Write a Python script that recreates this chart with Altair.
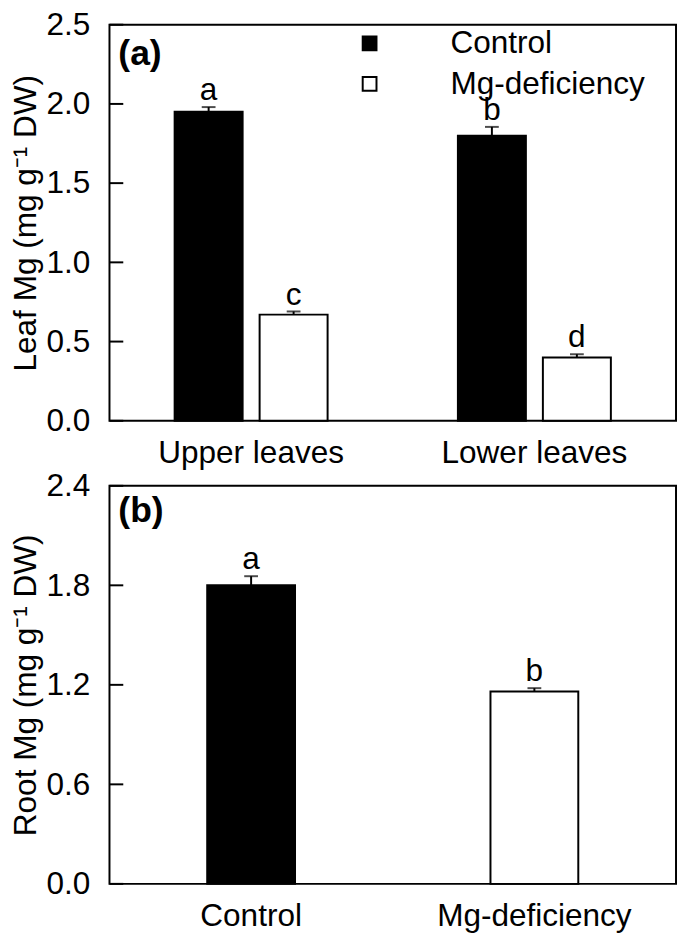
import altair as alt
import pandas as pd

# ---- data ----
leaf_groups = ["Upper leaves", "Upper leaves", "Lower leaves", "Lower leaves"]
leaf_treat = ["Control", "Mg-deficiency", "Control", "Mg-deficiency"]
leaf_mean = [1.95, 0.67, 1.80, 0.40]
leaf_se = [0.03, 0.02, 0.055, 0.02]
leaf_letters = ["a", "c", "b", "d"]

root_treat = ["Control", "Mg-deficiency"]
root_mean = [1.80, 1.16]
root_se = [0.055, 0.02]
root_letters = ["a", "b"]

leaf_ticks = [0.0, 0.5, 1.0, 1.5, 2.0, 2.5]
root_ticks = [0.0, 0.6, 1.2, 1.8, 2.4]
group_order = ["Upper leaves", "Lower leaves"]
treat_order = ["Control", "Mg-deficiency"]

FONT = "Liberation Sans"
FS = 32
W = 575
HA = 402
HB = 404

leaf_df = pd.DataFrame({
    "group": leaf_groups, "treat": leaf_treat, "mean": leaf_mean,
    "upper": [m + s for m, s in zip(leaf_mean, leaf_se)], "letter": leaf_letters,
})
root_df = pd.DataFrame({
    "treat": root_treat, "mean": root_mean,
    "upper": [m + s for m, s in zip(root_mean, root_se)], "letter": root_letters,
})

fill_scale = alt.Scale(domain=treat_order, range=["black", "white"])


def yaxis(ticks, title):
    return alt.Axis(values=ticks, format=".1f", ticks=False, domain=False, grid=False,
                    labelPadding=20, labelFontSize=FS, title=title, titleFontSize=FS,
                    titleFontWeight="normal", titlePadding=4)


def xaxis():
    return alt.Axis(title=None, ticks=False, domain=False, labelPadding=17,
                    labelFontSize=FS, labelAngle=0, labelLimit=500)


# ---- panel (a) ----
xa = alt.X("group:N", sort=group_order,
           scale=alt.Scale(paddingInner=0.46, paddingOuter=0.23), axis=xaxis())
xoa = alt.XOffset("treat:N", sort=treat_order,
                  scale=alt.Scale(paddingInner=0.2, paddingOuter=0))
ya = alt.Y("mean:Q", scale=alt.Scale(domain=[0, 2.5], nice=False),
           axis=yaxis(leaf_ticks, "Leaf Mg (mg g\u207B\u00B9 DW)"))

base_a = alt.Chart(leaf_df)
bars_a = base_a.mark_bar(stroke="black", strokeWidth=2).encode(
    x=xa, xOffset=xoa, y=ya,
    fill=alt.Fill("treat:N", scale=fill_scale, sort=treat_order,
                  legend=alt.Legend(title=None, orient="none", legendX=248, legendY=3,
                                    symbolType="square", symbolSize=196,
                                    symbolStrokeColor="black", symbolStrokeWidth=2,
                                    labelFontSize=FS, labelFont=FONT, labelOffset=66,
                                    rowPadding=9, labelLimit=400)),
)
err_a = base_a.mark_rule(color="black", strokeWidth=2).encode(
    x=xa, xOffset=xoa, y="mean:Q", y2="upper:Q")
cap_a = base_a.mark_tick(color="black", thickness=2, size=14).encode(
    x=xa, xOffset=xoa, y="upper:Q")
lab_a = base_a.mark_text(font=FONT, fontSize=FS, baseline="alphabetic", dy=-7).encode(
    x=xa, xOffset=xoa, y="upper:Q", text="letter:N")
ticks_a = alt.Chart(pd.DataFrame({"mean": leaf_ticks})).mark_rule(
    color="black", strokeWidth=2).encode(
    y=ya, x=alt.value(0), x2=alt.value(14))
tag_a = alt.Chart(pd.DataFrame({"t": ["(a)"]})).mark_text(
    font=FONT, fontSize=36, fontWeight="bold", align="left", baseline="middle").encode(
    x=alt.value(9), y=alt.value(30), text="t:N")

panel_a = alt.layer(bars_a, err_a, cap_a, lab_a, ticks_a, tag_a).properties(width=W, height=HA)

# ---- panel (b) ----
xb = alt.X("treat:N", sort=treat_order,
           scale=alt.Scale(paddingInner=0.69, paddingOuter=0.345), axis=xaxis())
yb = alt.Y("mean:Q", scale=alt.Scale(domain=[0, 2.4], nice=False),
           axis=yaxis(root_ticks, "Root Mg (mg g\u207B\u00B9 DW)"))

base_b = alt.Chart(root_df)
bars_b = base_b.mark_bar(stroke="black", strokeWidth=2).encode(
    x=xb, y=yb,
    fill=alt.Fill("treat:N", scale=fill_scale, sort=treat_order, legend=None),
)
err_b = base_b.mark_rule(color="black", strokeWidth=2).encode(
    x=xb, y="mean:Q", y2="upper:Q")
cap_b = base_b.mark_tick(color="black", thickness=2, size=14).encode(
    x=xb, y="upper:Q")
lab_b = base_b.mark_text(font=FONT, fontSize=FS, baseline="alphabetic", dy=-7).encode(
    x=xb, y="upper:Q", text="letter:N")
ticks_b = alt.Chart(pd.DataFrame({"mean": root_ticks})).mark_rule(
    color="black", strokeWidth=2).encode(
    y=yb, x=alt.value(0), x2=alt.value(14))
tag_b = alt.Chart(pd.DataFrame({"t": ["(b)"]})).mark_text(
    font=FONT, fontSize=36, fontWeight="bold", align="left", baseline="middle").encode(
    x=alt.value(9), y=alt.value(26), text="t:N")

panel_b = alt.layer(bars_b, err_b, cap_b, lab_b, ticks_b, tag_b).properties(width=W, height=HB)

chart = alt.vconcat(panel_a, panel_b, spacing=0).resolve_scale(
    fill="independent").resolve_legend(fill="independent").properties(
    padding={"left": 0, "top": -7, "right": 0, "bottom": 0}
).configure_view(stroke="black", strokeWidth=2).configure_axis(
    labelFont=FONT, titleFont=FONT, labelColor="black", titleColor="black"
).configure_text(font=FONT, color="black")

chart.save("out.html", embed_options={"renderer": "svg", "actions": False})
